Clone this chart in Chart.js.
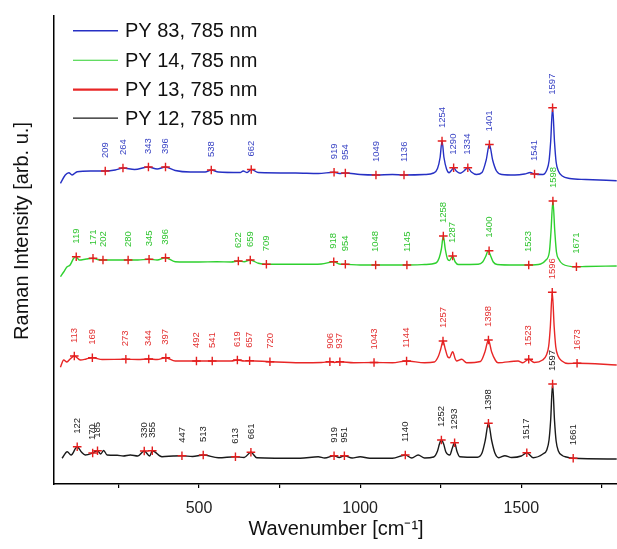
<!DOCTYPE html>
<html>
<head>
<meta charset="utf-8">
<script src="https://cdn.jsdelivr.net/npm/chart.js@4/dist/chart.umd.min.js"></script>
<style>
  html, body { margin: 0; padding: 0; background: #fff; overflow: hidden; }
  #wrap { width: 640px; height: 549px; }
</style>
</head>
<body>
<div id="wrap"><canvas id="c" width="640" height="549"></canvas></div>
<script>
// ---- Data (wavenumber [cm-1], intensity [arb. u., offset traces]) ----
const seriesNames = ['PY 83, 785 nm', 'PY 14, 785 nm', 'PY 13, 785 nm', 'PY 12, 785 nm'];

const py83 = [[70,300.7],[85,309],[96,311.3],[106,309],[122,312.3],[163,313],[209,313],[240,314],[264,316],[300,314.5],[343,317],[370,315],[396,317],[426,313.5],[473,312],[519,312],[538,314],[560,312],[628,311.5],[637,313],[649,311.5],[662,314.5],[684,311.5],[800,311],[870,310.5],[919,311.7],[935,310.5],[954,311],[1000,309.5],[1049,309],[1100,309.5],[1136,309],[1200,309.5],[1228,311],[1240,315.5],[1248,326.5],[1254,343],[1260,326.5],[1268,315],[1276,311.3],[1283,313.5],[1290,316.3],[1298,313],[1310,310.7],[1322,313],[1334,316.3],[1345,312],[1361,309.5],[1378,311.5],[1391,324],[1401,339.5],[1411,324],[1423,313],[1440,309.5],[1480,309],[1510,310],[1528,311.5],[1541,310],[1567,309.5],[1579,314],[1586,323],[1591,342],[1597,376.3],[1603,342],[1608,322],[1615,313],[1627,308],[1650,305.5],[1700,304.5],[1796,303.3]];

const py14 = [[70,207.3],[80,212],[90,217],[100,219],[111,225.7],[119,227.3],[128,224],[150,225],[171,225.7],[185,224.5],[202,224],[240,224],[280,224],[310,224],[345,224.7],[370,224],[396,226.3],[426,222.3],[500,222],[555,222.3],[600,222],[622,223],[640,222.3],[659,224],[684,220.7],[709,219.7],[814,219.7],[880,220],[918,222.3],[935,220],[954,219.7],[1000,219],[1048,219],[1100,219],[1145,219],[1200,219.5],[1235,221],[1245,226],[1252,235],[1258,248],[1264,235],[1271,225],[1277,223.5],[1287,228],[1295,222],[1305,219.5],[1366,219.7],[1380,222],[1390,228],[1397,233.3],[1405,228],[1413,222],[1425,219.5],[1480,219],[1523,219],[1560,220],[1575,223.5],[1587,232],[1592,252],[1598,283],[1604,252],[1609,232],[1616,225],[1628,220],[1669,217.3],[1700,217.5],[1796,218]];

const py13 = [[70,116.7],[80,124],[90,122],[100,125],[113,128],[132,124],[150,125],[169,126.3],[200,124.5],[273,124.7],[310,124.5],[344,125],[370,124.5],[397,126.3],[426,123],[492,123],[541,123],[600,123],[619,124],[640,123],[657,123.3],[720,122.3],[814,121.3],[880,121.5],[906,122.3],[920,121.5],[937,122.3],[980,121.3],[1043,121.5],[1100,121.3],[1144,123],[1200,121.3],[1230,122],[1243,128],[1250,135],[1257,143],[1264,135],[1272,127],[1277,126.3],[1287,132.3],[1295,125],[1299,123],[1315,124.7],[1330,121.3],[1373,122.5],[1387,132],[1398,144],[1408,132],[1420,123.5],[1428,121.3],[1490,123],[1504,121.3],[1523,124.7],[1540,121.5],[1566,124],[1578,129],[1585,138],[1590,157],[1596,191.7],[1602,157],[1607,137],[1614,128],[1626,123],[1645,120.5],[1673,120.7],[1796,119]];

const py12 = [[75,25.7],[91,32.3],[103,29],[122,37.3],[135,32],[147,29],[170,31],[185,33.3],[195,30],[204,33.5],[215,29],[246,28.7],[265,28],[287,29],[310,28],[330,33],[347,28],[355,33.3],[385,27.3],[420,28],[447,28.3],[480,27.5],[513,29],[560,26.3],[613,27.3],[640,26.5],[661,31.7],[679,26.3],[814,25.7],[870,27.3],[890,26],[919,28.3],[935,26.5],[951,28.3],[975,26],[1000,27.3],[1030,25.7],[1100,25.7],[1140,29],[1160,26],[1180,29],[1200,26],[1228,27],[1240,33],[1246,40],[1252,44],[1259,40],[1266,32],[1278,29],[1286,36],[1293,41.3],[1300,33],[1309,27.3],[1364,26.8],[1378,31],[1388,43.5],[1398,60.7],[1408,43.5],[1418,31],[1430,26.3],[1449,28.3],[1470,26.5],[1500,28],[1517,31.3],[1537,26.3],[1567,30],[1579,34],[1586,44],[1591,63.5],[1597,100],[1603,63.5],[1608,43],[1615,33],[1627,28.5],[1640,27],[1661,25.7],[1796,25]];

// Picked peaks: [wavenumber, intensity]
const py83Peaks = [[209,313],[264,316],[343,317],[396,317],[538,314],[662,314.5],[919,311.7],[954,311],[1049,309],[1136,309],[1254,343],[1290,316.3],[1334,316.3],[1401,339.5],[1541,310],[1597,376.3]];
const py14Peaks = [[119,227.3],[171,225.7],[202,224],[280,224],[345,224.7],[396,226.3],[622,223],[659,224],[709,219.7],[918,222.3],[954,219.7],[1048,219],[1145,219],[1258,248],[1287,228],[1400,233.3],[1523,219],[1598,283],[1671,217.3]];
const py13Peaks = [[113,128],[169,126.3],[273,124.7],[344,125],[397,126.3],[492,123],[541,123],[619,124],[657,123.3],[720,122.3],[906,122.3],[937,122.3],[1043,121.5],[1144,123],[1257,143],[1398,144],[1523,124.7],[1596,191.7],[1673,120.7]];
const py12Peaks = [[122,37.3],[170,31],[185,33.3],[330,33],[355,33.3],[447,28.3],[513,29],[613,27.3],[661,31.7],[919,28.3],[951,28.3],[1140,29],[1252,44],[1293,41.3],[1398,60.7],[1517,31.3],[1597,100],[1661,25.7]];

const xTicks = [250, 500, 750, 1000, 1250, 1500, 1750];

// ---- Styling ----
const lineColors  = ['#2630c4', '#2ed02e', '#e82626', '#1a1a1a'];
const labelColors = ['#3a44c4', '#2fc42f', '#e33030', '#222222'];
const legendWidths = [1.6, 1.1, 2.4, 1.3];
const spectra = [py83, py14, py13, py12];
const peaks = [py83Peaks, py14Peaks, py13Peaks, py12Peaks];
const FONT = '"Liberation Sans", Arial, sans-serif';

const toXY = arr => arr.map(p => ({x: p[0], y: p[1]}));

const datasets = [];
spectra.forEach((s, i) => {
  datasets.push({
    label: seriesNames[i],
    data: toXY(s),
    borderColor: lineColors[i],
    borderWidth: 1.4,
    pointRadius: 0,
    cubicInterpolationMode: 'monotone',
    fill: false,
    order: 2
  });
});
peaks.forEach((p, i) => {
  datasets.push({
    label: seriesNames[i] + ' peaks',
    data: toXY(p),
    showLine: false,
    pointStyle: 'cross',
    pointRadius: 4.3,
    pointBorderWidth: 1.4,
    pointBorderColor: '#e41e1e',
    pointBackgroundColor: '#e41e1e',
    order: 1,
    peakLabelColor: labelColors[i]
  });
});

const overlayPlugin = {
  id: 'overlay',
  afterDatasetsDraw(chart) {
    const ctx = chart.ctx;
    const xs = chart.scales.x, ys = chart.scales.y;
    // peak labels
    ctx.save();
    ctx.font = '9.5px ' + FONT;
    ctx.textAlign = 'left';
    ctx.textBaseline = 'middle';
    chart.data.datasets.forEach(ds => {
      if (!ds.peakLabelColor) return;
      ctx.fillStyle = ds.peakLabelColor;
      ds.data.forEach(pt => {
        const px = xs.getPixelForValue(pt.x);
        const py = ys.getPixelForValue(pt.y);
        ctx.save();
        ctx.translate(px, py - 13);
        ctx.rotate(-Math.PI / 2);
        ctx.fillText(String(pt.x), 0, 0);
        ctx.restore();
      });
    });
    ctx.restore();
  },
  afterDraw(chart) {
    const ctx = chart.ctx;
    // legend
    ctx.save();
    ctx.font = '20px ' + FONT;
    ctx.textAlign = 'left';
    ctx.textBaseline = 'middle';
    const rows = [30.7, 60.3, 89.6, 118.2];
    seriesNames.forEach((name, i) => {
      const y = rows[i];
      ctx.strokeStyle = lineColors[i];
      ctx.lineWidth = legendWidths[i];
      ctx.beginPath();
      ctx.moveTo(73, y);
      ctx.lineTo(118, y);
      ctx.stroke();
      ctx.fillStyle = '#111';
      ctx.fillText(name, 125, y + 1);
    });
    // y-axis title
    ctx.translate(22, 231);
    ctx.rotate(-Math.PI / 2);
    ctx.textAlign = 'center';
    ctx.fillStyle = '#111';
    ctx.fillText('Raman Intensity [arb. u.]', 0, 0);
    ctx.restore();
  }
};

new Chart(document.getElementById('c'), {
  type: 'line',
  data: { datasets },
  options: {
    responsive: false,
    animation: false,
    parsing: true,
    layout: { padding: { top: 16, right: 22, left: 0, bottom: 0 } },
    plugins: {
      legend: { display: false },
      tooltip: { enabled: false }
    },
    scales: {
      x: {
        type: 'linear',
        min: 50,
        max: 1800,
        afterBuildTicks: sc => { sc.ticks = xTicks.map(v => ({value: v})); },
        afterFit: sc => { sc.height = 65; },
        ticks: {
          autoSkip: false,
          maxRotation: 0,
          padding: 11,
          color: '#222',
          font: { family: FONT, size: 16 },
          callback: v => (v % 500 === 0 ? String(v) : '')
        },
        grid: { display: true, drawOnChartArea: false, drawTicks: true, tickLength: 4, color: '#000', lineWidth: 1.2 },
        border: { display: true, color: '#000', width: 1.5 },
        title: {
          display: true,
          text: 'Wavenumber [cm\u207B\u00B9]',
          color: '#111',
          font: { family: FONT, size: 20 },
          padding: { top: 0, bottom: 8 }
        }
      },
      y: {
        type: 'linear',
        min: 0,
        max: 468,
        afterFit: sc => { sc.width = 54; },
        ticks: { display: false },
        grid: { display: false },
        border: { display: true, color: '#000', width: 1.5 },
        title: { display: false }
      }
    }
  },
  plugins: [overlayPlugin]
});
</script>
</body>
</html>
